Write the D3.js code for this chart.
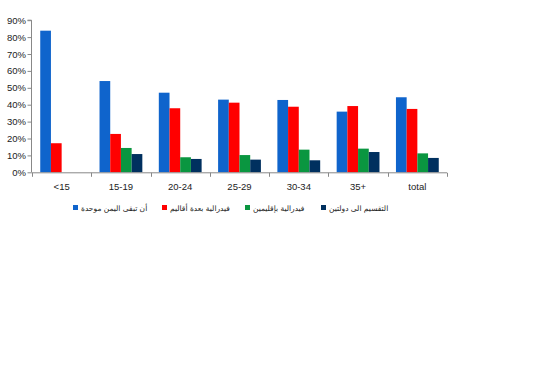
<!DOCTYPE html>
<head>
<meta charset="utf-8">
<style>
  body { margin:0; background:#fff; }
  text { font-family: "Liberation Sans", Arial, sans-serif; fill:#222; }
  .leg text { font-family: "DejaVu Sans", sans-serif; }
</style>
</head>
<script src="https://d3js.org/d3.v7.min.js"></script>
<div id="chart"></div>
<script>
// categories and series
var categories = ["<15", "15-19", "20-24", "25-29", "30-34", "35+", "total"];
var seriesNames = ["أن تبقى اليمن موحدة", "فيدرالية بعدة أقاليم", "فيدرالية بإقليمين", "التقسيم الى دولتين"];
var colors = ["#0f64cc", "#ff0000", "#0a9640", "#00305f"];
var united   = [83.8, 54.0, 47.1, 43.0, 42.8, 35.9, 44.4];
var fedMulti = [17.2, 22.7, 37.9, 41.2, 38.8, 39.2, 37.5];
var fedTwo   = [0, 14.4, 8.9, 10.2, 13.4, 14.0, 11.2];
var twoState = [0, 10.8, 7.9, 7.5, 7.1, 12.0, 8.5];
var yTicks = [0, 10, 20, 30, 40, 50, 60, 70, 80, 90];

var series = [united, fedMulti, fedTwo, twoState];

var W = 550, H = 370;
var svg = d3.select("#chart").append("svg")
  .attr("width", W).attr("height", H);

var x0 = d3.scaleBand().domain(categories).range([32, 447]).padding(0);
var x1 = d3.scaleBand().domain(d3.range(4)).range([0, x0.bandwidth()])
  .paddingInner(0).paddingOuter(0.77);
var y = d3.scaleLinear().domain([0, 90]).range([172.3, 20.2]);

// bars
categories.forEach(function(c, ci) {
  series.forEach(function(s, si) {
    if (s[ci] <= 0) return;
    svg.append("rect")
      .attr("x", x0(c) + x1(si))
      .attr("y", y(s[ci]))
      .attr("width", x1.bandwidth())
      .attr("height", y(0) - y(s[ci]))
      .attr("fill", colors[si]);
  });
});

// y axis
var yAxis = svg.append("g").attr("transform", "translate(31.5,0)")
  .call(d3.axisLeft(y).tickValues(yTicks).tickSize(4).tickFormat(function(d) { return d + "%"; }));
yAxis.select(".domain").attr("stroke", "#888").attr("d", "M-4," + y(90) + "H0V" + y(0));
yAxis.selectAll(".tick line").attr("stroke", "#888");
yAxis.selectAll(".tick text").attr("font-size", 9.5).attr("x", -5.5).attr("fill", "#222")
  .style("font-family", "Liberation Sans, Arial, sans-serif");

// x axis
var xg = svg.append("g").attr("transform", "translate(0," + (y(0) + 0.5) + ")");
xg.append("line").attr("x1", 31.5).attr("x2", 447).attr("stroke", "#888");
var bounds = categories.map(function(c) { return x0(c); }).concat([447]);
xg.selectAll("line.t").data(bounds).enter().append("line")
  .attr("class", "t")
  .attr("x1", function(d) { return Math.round(d) + 0.5; })
  .attr("x2", function(d) { return Math.round(d) + 0.5; })
  .attr("y1", 0).attr("y2", 4).attr("stroke", "#888");
xg.selectAll("text").data(categories).enter().append("text")
  .attr("x", function(d) { return x0(d) + x0.bandwidth() / 2; })
  .attr("y", 17)
  .attr("text-anchor", "middle")
  .attr("font-size", 9.5)
  .text(function(d) { return d; });

// legend
var legX = [73, 162, 245, 321];
var leg = svg.append("g").attr("class", "leg");
seriesNames.forEach(function(n, i) {
  leg.append("rect").attr("x", legX[i]).attr("y", 205)
    .attr("width", 5).attr("height", 5).attr("fill", colors[i]);
  leg.append("text").attr("x", legX[i] + 8).attr("y", 211)
    .attr("font-size", 7.5).attr("fill", "#333")
    .text(n);
});
</script>
